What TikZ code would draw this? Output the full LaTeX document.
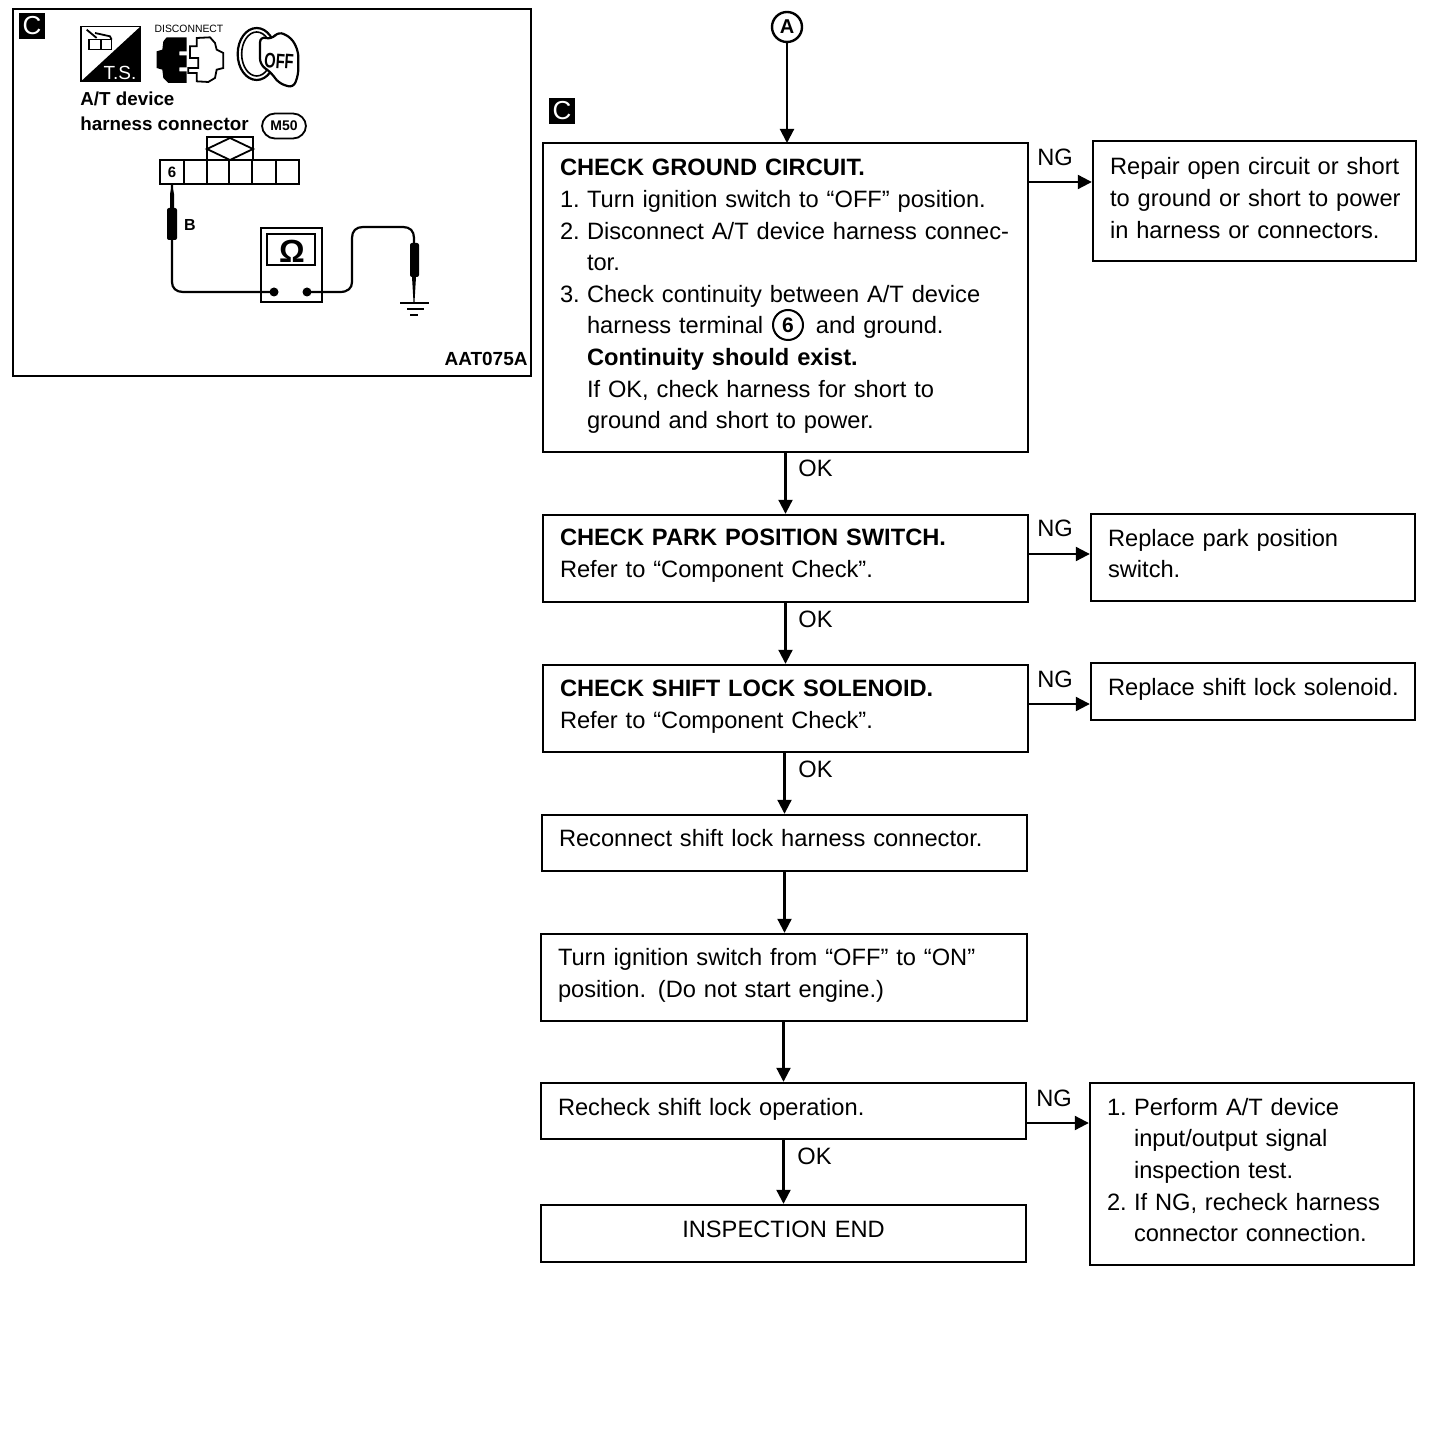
\documentclass[tikz,border=0pt]{standalone}
\usepackage{fontspec}
\setmainfont{Liberation Sans}
\usetikzlibrary{arrows.meta,calc}
\newcommand{\bodyfont}{\fontsize{11.83}{15.8}\selectfont}
\newcommand{\nm}[1]{\makebox[13.5pt][l]{#1}}
\newcommand{\ind}{\hspace*{13.5pt}}
\newcommand{\flowbox}[7]{%
  \pgfmathsetmacro{\bw}{(#4-#2)*0.5}\pgfmathsetmacro{\bh}{(#5-#3)*0.5}%
  \pgfmathsetmacro{\tw}{\bw-17}%
  \node[flowbox,minimum width=\bw pt,minimum height=\bh pt,text width=\tw pt] (#1) at ({(#2+#4)/2},{(#3+#5)/2}) {#7\par\vspace{#6pt}\hrule height 0pt width 0pt};}
\tikzset{
  flowbox/.style={draw,line width=1.2pt,inner xsep=8.5pt,inner ysep=0pt,align=left,font=\bodyfont},
  flow/.style={line width=1.05pt,-{Triangle[length=7pt,width=7pt]}},
  lbl/.style={font=\bodyfont,inner sep=0pt,anchor=base west},
  tag/.style={fill=black,text=white,minimum size=13pt,inner sep=0pt,font=\fontsize{13}{13}\selectfont},
  ill/.style={line width=0.7pt},
  illtext/.style={inner sep=0pt,anchor=base west,font=\fontsize{9.4}{12}\selectfont\bfseries},
  wire/.style={line width=1.1pt},
}
\begin{document}
\begin{tikzpicture}[x=0.5pt,y=-0.5pt]
\useasboundingbox (0,0) rectangle (1456,1454);
\fill[white] (0,0) rectangle (1456,1454);

% ---- illustration panel
\node[draw,line width=1.1pt,minimum width=259pt,minimum height=183.5pt,inner sep=0pt] (panel) at (272,192.5) {};
\node[tag] (tagA) at (32,26) {C};
% icons, in 3x crop coordinates
\begin{scope}[shift={(75,18)},x=0.16667pt,y=-0.16667pt]
  % T.S. icon
  \draw[line width=0.7pt] (18,25) rectangle (197,190);
  \fill (197,25) -- (197,190) -- (18,190) -- cycle;
  \node[inner sep=0pt,text=white,font=\fontsize{9.5}{10}\selectfont] (ts) at (135,165) {T.S.};
  \draw[line width=0.6pt] (42,65) rectangle (76,95) (78,65) rectangle (110,95);
  \draw[line width=0.9pt] (35,35) -- (65,60) (60,45) -- (105,55) -- (110,65);
  % disconnect icon
  \node[inner sep=0pt,font=\fontsize{5.3}{6}\selectfont,xscale=0.98] (disc) at (342,33) {DISCONNECT};
  \fill (335,58) -- (275,58) -- (265,70) -- (262,95) -- (245,100) -- (245,150) -- (262,155) -- (265,180) -- (280,195) -- (335,195)
     -- (335,160) -- (313,160) -- (313,148) -- (335,148) -- (335,112) -- (313,112) -- (313,100) -- (335,100) -- cycle;
  \draw[line width=0.9pt] (345,85) -- (365,85) -- (365,60) -- (405,58) -- (420,75) -- (425,95) -- (445,105) -- (445,150) -- (425,155) -- (420,180) -- (400,192) -- (365,190) -- (365,165) -- (340,165) -- (340,150) -- (370,150) -- (370,120) -- (345,120) -- cycle;
  % key icon
  \draw[line width=1.1pt] (545,108) ellipse [x radius=57,y radius=78];
  \draw[line width=0.8pt] (545,108) ellipse [x radius=45,y radius=66];
  \draw[line width=1.1pt,fill=white,rounded corners=3pt] (555,55) -- (590,65) -- (610,40) -- (650,60) -- (670,100) -- (670,170) -- (655,210) -- (610,195) -- (590,165) -- (555,140) -- cycle;
  \node[inner sep=0pt,rotate=-4,font=\fontsize{10.5}{11}\selectfont\bfseries,xscale=0.7] (off) at (612,130) {OFF};
\end{scope}
% labels
\node[illtext] (atd) at (80,106) {A/T device};
\node[illtext] (hc) at (80,131) {harness connector};
\node[draw,line width=0.9pt,rounded corners=6.5pt,minimum width=22pt,minimum height=12.5pt,inner sep=0pt,font=\fontsize{7}{8}\selectfont\bfseries] (m50) at (284,126) {M50};
% connector
\draw[line width=0.9pt] (207,160) -- (207,137) -- (253,137) -- (253,160);
\draw[line width=0.9pt] (207,149) -- (230,138) -- (253,149) -- (230,160) -- cycle;
\draw[line width=1.1pt] (160,160) rectangle (299,184);
\foreach \cx in {184,207,229,252,276} \draw[line width=0.85pt] (\cx,160) -- (\cx,184);
\node[inner sep=0pt,font=\fontsize{7.5}{8}\selectfont\bfseries] (six) at (172,172.5) {6};
% probe left
\coordinate (pin) at (172,184);
\coordinate (md1) at (274,292);
\coordinate (md2) at (307,292);
\draw[wire] (pin) -- (172,282) .. controls (172,288) and (176,292) .. (183,292) -- (md1);
\fill (170,194) -- (172,184) -- (174,194) -- (174,208) -- (170,208) -- cycle;
\fill[rounded corners=1pt] (167,208) rectangle (177,240);
\node[inner sep=0pt,font=\fontsize{8}{9}\selectfont\bfseries] (bl) at (190,225) {B};
% meter
\draw[wire] (261,228) rectangle (322,302);
\draw[wire] (267,234) rectangle (315,265);
\node[inner sep=0pt,font=\fontsize{16}{17}\selectfont\bfseries] (ohm) at (292,251) {Ω};
\fill (md1) circle (4.5);
\fill (md2) circle (4.5);
% wire right
\draw[wire] (md2) -- (340,292) .. controls (348,292) and (352,288) .. (352,282) -- (352,238) .. controls (352,231) and (356,227) .. (363,227) -- (403,227) .. controls (410,227) and (414,231) .. (414,238) -- (414,243);
\fill[rounded corners=1pt] (410,243) rectangle (419,277);
\fill (412,277) -- (416,277) -- (414.5,302) -- (413.5,302) -- cycle;
\draw[line width=1.2pt] (400,303) -- (429,303);
\draw[line width=1.2pt] (407,309) -- (424,309);
\draw[line width=1.2pt] (410,315) -- (418,315);
\node[inner sep=0pt,anchor=base east,font=\fontsize{9.5}{11}\selectfont\bfseries] (code) at (528,366) {AAT075A};

% ---- flow
\node[draw,circle,line width=1.2pt,minimum size=15pt,inner sep=0pt,font=\fontsize{10}{10}\selectfont\bfseries] (start) at (787,27) {A};
\node[tag] (tagB) at (562,111) {C};

\flowbox{b1}{543}{143}{1028}{452}{1}{%
  \textbf{CHECK GROUND CIRCUIT.}\\
  \nm{1.}Turn ignition switch to “OFF” position.\\
  \nm{2.}Disconnect A/T device harness connec-\\
  \ind tor.\\
  \nm{3.}Check continuity between A/T device\\
  \ind harness terminal \hspace{18.5pt} and ground.\\
  \ind\textbf{Continuity should exist.}\\
  \ind If OK, check harness for short to\\
  \ind ground and short to power.}
\node[draw,circle,line width=1pt,minimum size=15pt,inner sep=0pt,font=\fontsize{10.5}{10.5}\selectfont\bfseries] (six2) at (788,325) {6};
\flowbox{n1}{1093}{141}{1416}{261}{3}{\mbox{Repair open circuit or short}\\\mbox{to ground or short to power}\\\mbox{in harness or connectors.}}
\flowbox{b2}{543}{515}{1028}{602}{3}{\textbf{CHECK PARK POSITION SWITCH.}\\Refer to “Component Check”.}
\flowbox{n2}{1091}{514}{1415}{601}{4}{Replace park position\\switch.}
\flowbox{b3}{543}{665}{1028}{752}{2}{\textbf{CHECK SHIFT LOCK SOLENOID.}\\Refer to “Component Check”.}
\flowbox{n3}{1091}{663}{1415}{720}{2}{\mbox{Replace shift lock solenoid.}}
\flowbox{b4}{542}{815}{1027}{871}{5}{Reconnect shift lock harness connector.}
\flowbox{b5}{541}{934}{1027}{1021}{2}{Turn ignition switch from “OFF” to “ON”\\position. (Do not start engine.)}
\flowbox{b6}{541}{1083}{1026}{1139}{2}{Recheck shift lock operation.}
\flowbox{b7}{541}{1205}{1026}{1262}{4}{\hspace*{1pt}\hfill INSPECTION END\hfill\hspace*{1pt}}
\flowbox{n4}{1090}{1083}{1414}{1265}{4}{%
  \nm{1.}Perform A/T device\\
  \ind input/output signal\\
  \ind inspection test.\\
  \nm{2.}If NG, recheck harness\\
  \ind connector connection.}

% connectors
\coordinate (topin) at (787,143);
\draw[flow] (start) -- (topin);
\draw[flow] (b1) -- (b2);
\draw[flow] (b2) -- (b3);
\draw[flow] (b4.north |- b3.south) -- (b4.north);
\draw[flow] (b4.south) -- (b4.south |- b5.north);
\draw[flow] (b5.south -| b6.north) -- (b6.north);
\draw[flow] (b6.south) -- (b7.north);
\coordinate (o1) at (1028,182);
\coordinate (o2) at (1028,554);
\coordinate (o3) at (1028,704);
\coordinate (o4) at (1026,1123);
\draw[flow] (o1) -- (o1 -| n1.west);
\draw[flow] (o2) -- (o2 -| n2.west);
\draw[flow] (o3) -- (o3 -| n3.west);
\draw[flow] (o4) -- (o4 -| n4.west);
% labels
\node[lbl] (ng1) at (1037,166) {NG};
\node[lbl] (ng2) at (1037,537) {NG};
\node[lbl] (ng3) at (1037,687) {NG};
\node[lbl] (ng4) at (1036,1106) {NG};
\node[lbl] (ok1) at (798,477) {OK};
\node[lbl] (ok2) at (798,627) {OK};
\node[lbl] (ok3) at (798,777) {OK};
\node[lbl] (ok4) at (797,1164) {OK};
\end{tikzpicture}
\end{document}
